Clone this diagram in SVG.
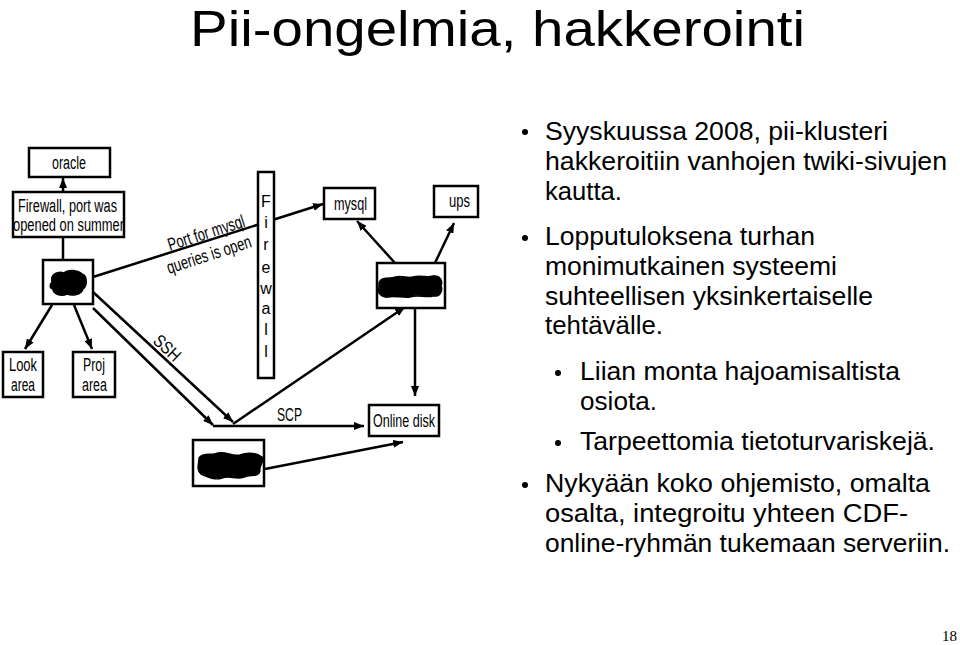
<svg xmlns="http://www.w3.org/2000/svg" width="960" height="645" viewBox="0 0 960 645">
<defs>
<style>
.box{fill:#fff;stroke:#000;stroke-width:2.5}
.ln{fill:none;stroke:#000;stroke-width:2.5}
.arr{marker-end:url(#ah)}
.lbl{font-family:"Liberation Sans",Arial,sans-serif;font-size:18px;fill:#000}
.mid{text-anchor:middle}
.bt{font-family:"Liberation Sans",Arial,sans-serif;font-size:25px;fill:#000}
.blob{fill:#000;stroke:#000;stroke-width:1.5}
</style>
<marker id="ah" markerUnits="userSpaceOnUse" markerWidth="10" markerHeight="8" refX="10" refY="4" orient="auto">
<path d="M0,0 L10,4 L0,8 z" fill="#000"/>
</marker>
</defs>
<rect width="960" height="645" fill="#fff"/>

<text x="190" y="46" font-family="Liberation Sans, Arial, sans-serif" font-size="50" textLength="615" lengthAdjust="spacingAndGlyphs">Pii-ongelmia, hakkerointi</text>

<g id="connectors">
<line class="ln arr" x1="63" y1="192" x2="63" y2="178"/>
<line class="ln" x1="63" y1="237" x2="63" y2="260"/>
<line class="ln arr" x1="93" y1="277" x2="323" y2="204"/>
<line class="ln arr" x1="52" y1="305" x2="25" y2="349"/>
<line class="ln arr" x1="74" y1="305" x2="92" y2="349"/>
<line class="ln arr" x1="93" y1="308" x2="213" y2="425"/>
<line class="ln arr" x1="93" y1="292" x2="233" y2="422"/>
<line class="ln arr" x1="213" y1="426" x2="364" y2="426"/>
<line class="ln arr" x1="233" y1="424" x2="405" y2="307"/>
<line class="ln arr" x1="395" y1="263" x2="357" y2="221"/>
<line class="ln arr" x1="435" y1="263" x2="454" y2="223"/>
<line class="ln arr" x1="415" y1="308" x2="415" y2="396"/>
<line class="ln arr" x1="265" y1="469" x2="403" y2="442"/>
<text class="lbl" transform="translate(170,251) rotate(-18)" textLength="80" lengthAdjust="spacingAndGlyphs">Port for mysql</text>
<text class="lbl" transform="translate(169,274) rotate(-18)" textLength="88" lengthAdjust="spacingAndGlyphs">queries is open</text>
<text class="lbl mid" transform="translate(167,348) rotate(43)" y="6" textLength="30" lengthAdjust="spacingAndGlyphs">SSH</text>
<text class="lbl" x="277" y="421" textLength="25" lengthAdjust="spacingAndGlyphs">SCP</text>
</g>

<g id="oracle">
<rect class="box" x="29" y="148" width="81" height="29"/>
<text class="lbl" x="52" y="169" textLength="34" lengthAdjust="spacingAndGlyphs">oracle</text>
</g>
<g id="firewall-port">
<rect class="box" x="13" y="192" width="111" height="45"/>
<text class="lbl" x="18" y="212" textLength="99" lengthAdjust="spacingAndGlyphs">Firewall, port was</text>
<text class="lbl" x="13" y="231" textLength="111" lengthAdjust="spacingAndGlyphs">opened on summer</text>
</g>
<g id="server1">
<rect class="box" x="43" y="260" width="50" height="44"/>
<path class="blob" d="M52,282 C50,274 58,271 64,273 C68,269 78,270 82,274 C88,276 87,286 83,289 C82,295 72,296 67,294 C61,297 53,294 53,289 C49,288 50,284 52,282 Z"/>
</g>
<g id="look-area">
<rect class="box" x="3" y="352" width="40" height="45"/>
<text class="lbl" x="9" y="371" textLength="28" lengthAdjust="spacingAndGlyphs">Look</text>
<text class="lbl" x="11" y="391" textLength="24" lengthAdjust="spacingAndGlyphs">area</text>
</g>
<g id="proj-area">
<rect class="box" x="73" y="352" width="42" height="45"/>
<text class="lbl" x="83" y="371" textLength="22" lengthAdjust="spacingAndGlyphs">Proj</text>
<text class="lbl" x="82" y="391" textLength="25" lengthAdjust="spacingAndGlyphs">area</text>
</g>
<g id="firewall">
<rect class="box" x="258" y="172" width="16" height="206"/>
<g class="lbl mid" style="font-size:16px">
<text x="266" y="207">F</text>
<text x="266" y="228">i</text>
<text x="266" y="250">r</text>
<text x="266" y="273">e</text>
<text x="266" y="294">w</text>
<text x="266" y="314">a</text>
<text x="266" y="335">l</text>
<text x="266" y="357">l</text>
</g>
</g>
<g id="mysql">
<rect class="box" x="324" y="188" width="51" height="31"/>
<text class="lbl" x="334" y="210" textLength="33" lengthAdjust="spacingAndGlyphs">mysql</text>
</g>
<g id="ups">
<rect class="box" x="434" y="186" width="44" height="31"/>
<text class="lbl" x="449" y="207" textLength="21" lengthAdjust="spacingAndGlyphs">ups</text>
</g>
<g id="server2">
<rect class="box" x="377" y="263" width="68" height="45"/>
<path class="blob" d="M379,283 C381,276 392,279 396,277 C402,275 408,279 413,277 C420,275 428,278 433,276 C440,275 443,281 441,286 C443,291 440,297 433,296 C426,298 418,294 410,297 C402,298 394,295 388,297 C381,298 377,292 379,288 Z"/>
</g>
<g id="online-disk">
<rect class="box" x="369" y="405" width="70" height="31"/>
<text class="lbl" x="373" y="427" textLength="62" lengthAdjust="spacingAndGlyphs">Online disk</text>
</g>
<g id="server3">
<rect class="box" x="193" y="440" width="71" height="46"/>
<path class="blob" d="M199,458 C203,452 212,456 218,453 C226,451 232,457 240,455 C248,452 256,453 262,457 C265,462 258,466 260,471 C258,478 250,474 244,477 C236,480 230,475 222,478 C214,481 206,476 201,474 C196,470 199,464 199,458 Z"/>
</g>

<g id="bullets">
<circle cx="525" cy="132" r="3"/>
<text class="bt" x="545" y="140" textLength="343" lengthAdjust="spacingAndGlyphs">Syyskuussa 2008, pii-klusteri</text>
<text class="bt" x="545" y="170" textLength="402" lengthAdjust="spacingAndGlyphs">hakkeroitiin vanhojen twiki-sivujen</text>
<text class="bt" x="545" y="200" textLength="77" lengthAdjust="spacingAndGlyphs">kautta.</text>
<circle cx="525" cy="238" r="3"/>
<text class="bt" x="545" y="245" textLength="270" lengthAdjust="spacingAndGlyphs">Lopputuloksena turhan</text>
<text class="bt" x="545" y="275" textLength="292" lengthAdjust="spacingAndGlyphs">monimutkainen systeemi</text>
<text class="bt" x="545" y="305" textLength="328" lengthAdjust="spacingAndGlyphs">suhteellisen yksinkertaiselle</text>
<text class="bt" x="545" y="334" textLength="118" lengthAdjust="spacingAndGlyphs">tehtävälle.</text>
<circle cx="558" cy="373" r="3"/>
<text class="bt" x="580" y="380" textLength="320" lengthAdjust="spacingAndGlyphs">Liian monta hajoamisaltista</text>
<text class="bt" x="580" y="410" textLength="77" lengthAdjust="spacingAndGlyphs">osiota.</text>
<circle cx="558" cy="443" r="3"/>
<text class="bt" x="580" y="450" textLength="355" lengthAdjust="spacingAndGlyphs">Tarpeettomia tietoturvariskejä.</text>
<circle cx="525" cy="485" r="3"/>
<text class="bt" x="545" y="492" textLength="385" lengthAdjust="spacingAndGlyphs">Nykyään koko ohjemisto, omalta</text>
<text class="bt" x="545" y="522" textLength="363" lengthAdjust="spacingAndGlyphs">osalta, integroitu yhteen CDF-</text>
<text class="bt" x="545" y="552" textLength="405" lengthAdjust="spacingAndGlyphs">online-ryhmän tukemaan serveriin.</text>
</g>

<text x="957" y="641" text-anchor="end" font-family="Liberation Serif, Times New Roman, serif" font-size="15">18</text>
</svg>
